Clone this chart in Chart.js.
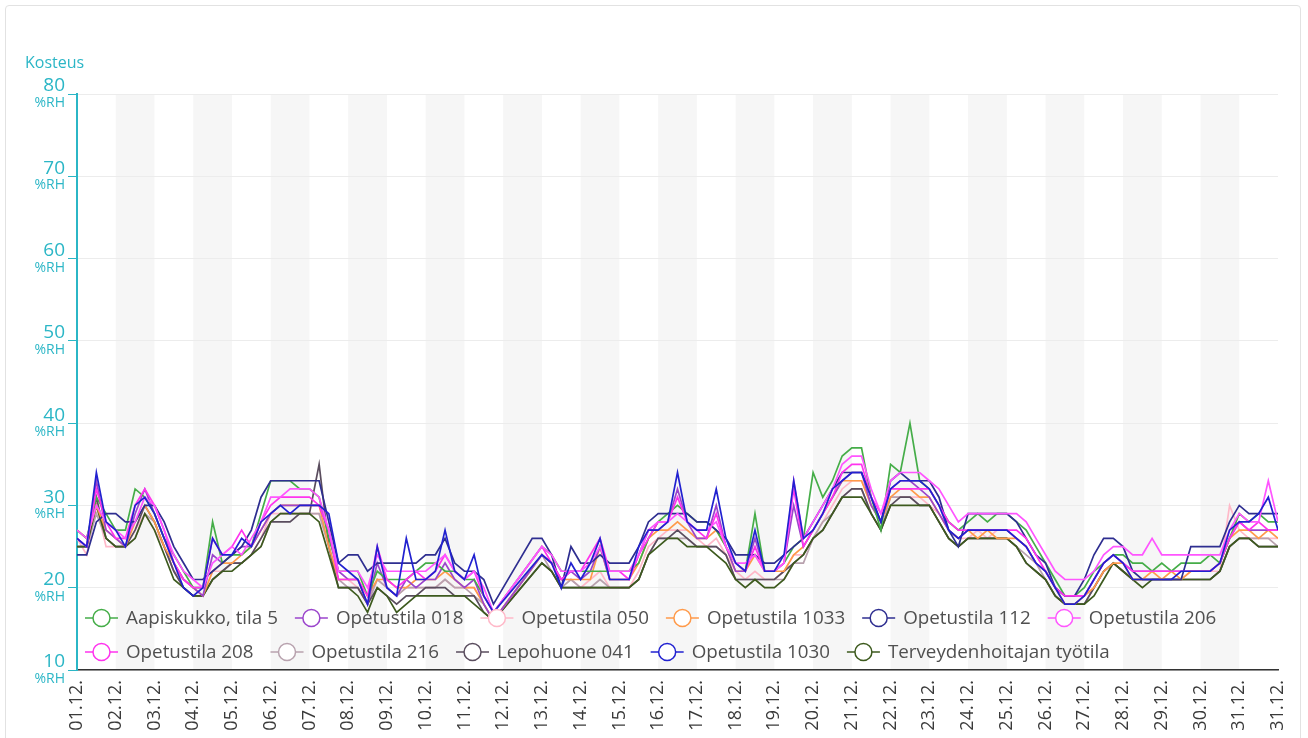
<!DOCTYPE html>
<html>
<head>
<meta charset="utf-8">
<script src="https://cdn.jsdelivr.net/npm/chart.js@4/dist/chart.umd.min.js"></script>
<style>
  html, body { margin: 0; padding: 0; background: #fff; }
  body { width: 1308px; height: 738px; overflow: hidden; position: relative; }
  #card { position: absolute; left: 5px; top: 5px; width: 1296px; height: 760px; border: 1px solid #e2e2e2; border-radius: 4px; box-sizing: border-box; }
  #c { position: absolute; left: 0; top: 0; }
</style>
</head>
<body>
<div id="card"></div>
<canvas id="c" width="1308" height="738"></canvas>
<script>
// Tick labels (one per day boundary, Dec 1 .. Jan 1)
const dayLabels = ['01.12.','02.12.','03.12.','04.12.','05.12.','06.12.','07.12.','08.12.','09.12.','10.12.',
  '11.12.','12.12.','13.12.','14.12.','15.12.','16.12.','17.12.','18.12.','19.12.','20.12.',
  '21.12.','22.12.','23.12.','24.12.','25.12.','26.12.','27.12.','28.12.','29.12.','30.12.','31.12.','31.12.'];
const yTicks = [10, 20, 30, 40, 50, 60, 70, 80];
const seriesNames = ['Aapiskukko, tila 5','Opetustila 018','Opetustila 050','Opetustila 1033','Opetustila 112',
  'Opetustila 206','Opetustila 208','Opetustila 216','Lepohuone 041','Opetustila 1030','Terveydenhoitajan työtila'];

// Humidity (%RH), one value per 6 hours from 01.12. 00:00 (null = no data)
const aapiskukko = [27,26,31,29, 27,27,32,31, 29,26,24,22, 20,20,28,23, 24,24,25,29, 33,33,33,32, 32,31,26,22, 22,22,19,22, 21,21,21,22, 23,23,22,22, 21,21,19,17, null,null,null,null, 25,24,22,22, 22,22,22,22, 22,22,23,26, 28,29,30,29, 28,28,27,25, 23,22,29,22, 22,23,25,26, 34,31,33,36, 37,37,31,27, 35,34,40,33, 32,30,28,27, 28,29,28,29, 29,28,27,25, 23,21,19,19, 20,22,23,24, 24,23,23,22, 23,22,23,23, 23,24,23,26, 29,28,29,28,28];
const ope018 = [26,25,33,27, 26,25,29,32, 29,26,23,21, 20,19,24,23, 24,25,25,27, 29,30,30,30, 30,30,27,22, 21,21,18,23, 20,19,21,20, 21,21,23,21, 20,21,18,16, null,null,null,null, 24,23,21,22, 21,22,25,21, 21,21,24,27, 27,28,32,28, 26,26,30,25, 22,22,26,22, 22,23,30,25, 27,29,31,33, 34,34,30,28, 32,33,33,32, 31,29,27,26, 27,27,27,27, 27,26,25,23, 22,20,19,19, 19,21,23,24, 23,22,22,22, 22,22,22,22, 22,22,23,26, 28,27,27,27,27];
const ope050 = [26,24,30,25, 25,25,27,29, 27,25,22,21, 20,19,22,22, 23,23,24,26, 29,29,29,29, 29,29,25,21, 21,20,18,21, 20,19,20,20, 20,20,21,20, 20,20,18,16, null,null,null,null, 24,23,21,21, 20,21,22,20, 20,20,22,25, 26,27,27,27, 26,25,26,24, 22,21,22,21, 21,22,24,24, 26,28,30,32, 33,33,30,28, 31,31,31,31, 30,29,27,26, 26,27,26,27, 27,26,25,23, 22,20,18,18, 19,20,22,23, 22,21,21,21, 21,21,21,22, 22,22,22,30, 27,26,26,26,26];
const ope1033 = [27,26,30,27, 26,25,28,30, 28,25,23,21, 20,19,22,23, 23,24,25,27, 29,30,30,30, 30,30,25,21, 21,21,19,21, 21,20,20,21, 21,21,22,21, 20,20,18,16, null,null,null,null, 24,23,21,21, 21,21,25,21, 21,21,23,26, 27,27,28,27, 26,26,27,25, 22,22,24,22, 22,22,24,25, 27,29,31,33, 33,33,30,28, 31,32,32,31, 31,29,27,26, 27,26,27,26, 26,26,25,23, 22,20,18,18, 19,20,22,23, 23,21,21,22, 21,22,21,22, 22,22,23,26, 27,27,26,27,26];
const ope112 = [24,24,28,29, 29,28,28,30, 30,28,25,23, 21,21,22,23, 24,25,27,31, 33,33,33,33, 33,33,28,23, 24,24,22,23, 23,23,23,23, 24,24,26,23, 22,22,21,18, null,null,null,26, 26,24,20,25, 23,23,24,23, 23,23,25,28, 29,29,29,29, 28,28,27,26, 24,24,24,23, 23,24,25,26, 28,30,32,34, 34,34,31,28, 33,34,33,33, 33,31,27,25, 29,29,29,29, 29,28,26,24, 23,20,19,19, 21,24,26,26, 25,22,21,21, 21,21,21,25, 25,25,25,28, 30,29,29,29,29];
const ope206 = [27,26,30,28, 27,26,28,31, 30,27,24,22, 21,20,23,24, 25,24,26,28, 31,31,32,32, 32,31,27,22, 22,22,20,24, 22,22,22,22, 22,23,24,22, 21,22,20,17, null,null,null,null, 25,24,22,22, 22,23,25,22, 22,22,24,27, 28,28,29,28, 27,27,28,25, 23,23,24,22, 22,23,33,26, 28,30,32,35, 36,36,32,29, 33,34,34,34, 33,32,30,28, 29,29,29,29, 29,29,28,26, 24,22,21,21, 21,22,24,25, 25,24,24,26, 24,24,24,24, 24,24,24,27, 29,28,28,33,28];
const ope208 = [26,25,32,28, 26,26,30,32, 30,27,23,21, 20,20,26,24, 25,27,25,28, 30,31,31,31, 31,30,27,21, 21,21,19,25, 21,20,21,22, 21,22,24,22, 21,22,19,17, null,null,null,null, 25,23,21,22, 22,24,26,22, 22,21,24,26, 28,28,31,28, 27,26,29,25, 23,22,25,22, 22,23,32,25, 27,29,31,34, 35,35,31,29, 32,32,32,32, 32,30,28,27, 27,27,27,27, 27,27,26,24, 22,20,19,19, 19,21,23,24, 23,22,22,22, 22,22,22,22, 22,22,23,26, 28,27,28,27,27];
const ope216 = [25,25,29,26, 25,25,26,29, 28,25,22,20, 19,19,21,22, 23,23,24,25, 28,29,29,29, 29,29,25,21, 20,20,18,21, 20,19,20,20, 20,20,21,20, 20,19,18,16, null,null,null,null, 24,22,20,21, 20,20,21,20, 20,20,21,24, 26,26,26,26, 25,25,25,24, 21,21,21,21, 21,21,23,23, 26,28,29,31, 32,32,29,27, 31,31,31,30, 30,28,26,25, 26,26,26,26, 26,25,24,23, 21,19,18,18, 18,20,22,23, 22,21,21,21, 21,21,21,21, 21,21,22,25, 26,26,26,26,25];
const lepo041 = [25,25,31,26, 25,25,27,30, 28,25,22,20, 19,19,21,22, 23,23,24,26, 28,28,28,29, 29,35,25,20, 20,20,18,20, 19,18,19,19, 20,20,20,19, 19,19,17,16, null,null,null,null, 23,22,20,20, 20,20,20,20, 20,20,21,24, 26,26,27,26, 25,25,25,24, 21,21,21,21, 21,22,23,24, 26,27,29,31, 32,32,29,27, 30,31,31,30, 30,28,26,25, 26,26,26,26, 26,25,23,22, 21,19,18,18, 18,20,22,23, 22,21,21,21, 21,21,21,21, 21,21,22,25, 26,26,25,25,25];
const ope1030 = [26,25,34,28, 27,25,30,31, 29,26,23,20, 19,20,26,24, 24,26,25,28, 29,30,29,30, 30,30,29,23, 22,21,18,25, 20,19,26,21, 21,22,27,22, 21,24,19,17, null,null,null,null, 24,23,20,23, 21,23,26,21, 21,21,25,27, 27,28,34,28, 27,27,32,26, 23,22,27,22, 22,24,33,26, 27,29,32,33, 34,34,31,28, 32,33,33,33, 32,30,27,26, 27,27,27,27, 27,26,25,23, 22,20,18,18, 19,21,23,24, 23,21,21,21, 21,21,22,22, 22,22,23,27, 28,28,29,31,27];
const terveys = [25,25,30,26, 25,25,26,29, 27,24,21,20, 19,19,21,22, 22,23,24,25, 28,29,29,29, 29,28,24,20, 20,19,17,20, 19,17,18,19, 19,19,19,19, 19,18,17,16, null,null,null,null, 23,22,20,20, 20,20,20,20, 20,20,21,24, 25,26,26,25, 25,25,24,23, 21,20,21,20, 20,21,23,24, 26,27,29,31, 31,31,29,27, 30,30,30,30, 30,28,26,25, 26,26,26,26, 26,25,23,22, 21,19,18,18, 18,19,21,23, 22,21,20,21, 21,21,21,21, 21,21,22,25, 26,26,25,25,25];

const seriesValues = [aapiskukko, ope018, ope050, ope1033, ope112, ope206, ope208, ope216, lepo041, ope1030, terveys];
const seriesColors = ['#45ad48','#9b45cc','#ffb8c8','#ff9a4a','#2e2e90','#ff55ff','#ff33ee','#b8a2ae','#5a4d5e','#2121d0','#3d5a1e'];
const drawOrder = [5, 6, 11, 7, 4, 2, 3, 10, 9, 1, 8];

const TEAL = '#2bb6c6';
const FONT = '"Open Sans", "Noto Sans", sans-serif';

const datasets = seriesNames.map((name, k) => ({
  label: name,
  data: seriesValues[k].map((v, i) => ({ x: i / 4, y: v })),
  borderColor: seriesColors[k],
  backgroundColor: seriesColors[k],
  borderWidth: 1.7,
  pointRadius: 0,
  tension: 0,
  spanGaps: true,
  order: drawOrder[k]
}));

const bandsPlugin = {
  id: 'bands',
  beforeDraw(chart) {
    const { ctx, chartArea: a } = chart;
    const x = chart.scales.x;
    ctx.save();
    ctx.fillStyle = '#f6f6f6';
    for (let d = 1; d < dayLabels.length - 1; d += 2) {
      const x0 = x.getPixelForValue(d), x1 = x.getPixelForValue(d + 1);
      ctx.fillRect(x0, a.top, x1 - x0, a.bottom - a.top);
    }
    ctx.restore();
  }
};

const decorPlugin = {
  id: 'decor',
  afterDraw(chart) {
    const { ctx, chartArea: a } = chart;
    const y = chart.scales.y;
    ctx.save();
    // axis title
    ctx.fillStyle = TEAL;
    ctx.font = '16px ' + FONT;
    ctx.textAlign = 'left';
    ctx.textBaseline = 'middle';
    ctx.fillText('Kosteus', 25, 63);
    // unit under each tick value
    ctx.font = '14px ' + FONT;
    ctx.textAlign = 'right';
    yTicks.forEach(v => {
      ctx.fillText('%RH', a.left - 12, y.getPixelForValue(v) + 9);
    });
    // legend
    ctx.font = '18.8px ' + FONT;
    ctx.textAlign = 'left';
    let lx = a.left + 8, ly = 618;
    chart.data.datasets.forEach(ds => {
      const w = ctx.measureText(ds.label).width;
      if (lx + 41 + w > a.right) { lx = a.left + 8; ly += 34; }
      ctx.strokeStyle = ds.borderColor;
      ctx.lineWidth = 1.5;
      ctx.beginPath(); ctx.moveTo(lx, ly); ctx.lineTo(lx + 33, ly); ctx.stroke();
      ctx.beginPath(); ctx.arc(lx + 16.5, ly, 8.5, 0, Math.PI * 2);
      ctx.fillStyle = '#fff'; ctx.fill(); ctx.stroke();
      ctx.fillStyle = '#505050';
      ctx.fillText(ds.label, lx + 41, ly + 1);
      lx += 41 + w + 17;
    });
    ctx.restore();
  }
};

new Chart(document.getElementById('c'), {
  type: 'line',
  data: { datasets },
  options: {
    responsive: false,
    animation: false,
    devicePixelRatio: 1,
    layout: { padding: { top: 94, right: 30, bottom: 0, left: 0 } },
    plugins: { legend: { display: false }, tooltip: { enabled: false }, title: { display: false } },
    scales: {
      x: {
        type: 'linear',
        min: 0,
        max: dayLabels.length - 1,
        afterFit(s) { s.height = 68; },
        grid: { display: false },
        border: { display: true, color: '#333', width: 1.5 },
        ticks: {
          stepSize: 1,
          autoSkip: false,
          maxRotation: 90,
          minRotation: 90,
          padding: 2,
          color: '#3a3a3a',
          font: { size: 18, family: FONT },
          callback: (v) => dayLabels[v]
        }
      },
      y: {
        min: 10,
        max: 80,
        afterFit(s) { s.width = 77; },
        afterBuildTicks(s) { s.ticks = yTicks.map(v => ({ value: v })); },
        grid: { color: '#ececec', lineWidth: 1, tickColor: TEAL, tickLength: 9, drawTicks: true },
        border: { display: true, color: TEAL, width: 2 },
        ticks: {
          padding: 3,
          labelOffset: -8,
          color: TEAL,
          font: { size: 19, family: FONT },
          callback: (v) => String(v)
        }
      }
    }
  },
  plugins: [bandsPlugin, decorPlugin]
});
</script>
</body>
</html>
